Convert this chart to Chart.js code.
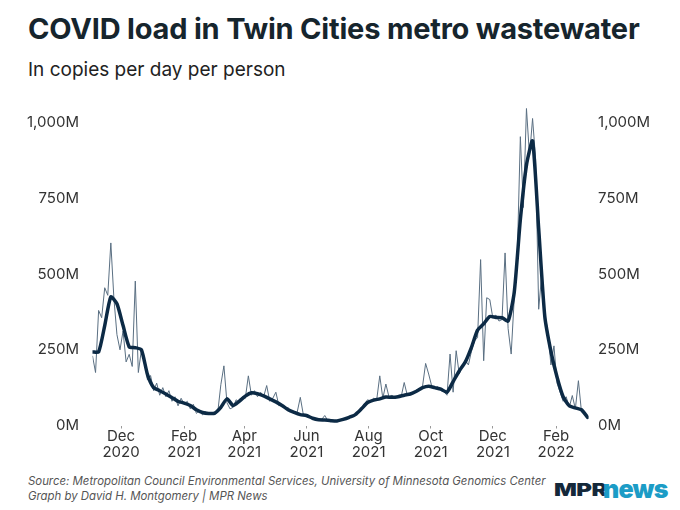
<!DOCTYPE html>
<html>
<head>
<meta charset="utf-8">
<script src="https://cdn.jsdelivr.net/npm/chart.js@4.4.1/dist/chart.umd.min.js"></script>
<style>
  body { margin: 0; width: 680px; height: 510px; background: #fff; font-family: Inter, sans-serif; position: relative; overflow: hidden; }
  #title { position: absolute; left: 28px; top: 11px; font-size: 29px; font-weight: 700; color: #16252d; letter-spacing: -0.2px; white-space: nowrap; }
  #subtitle { position: absolute; left: 28px; top: 58px; font-size: 19px; color: #222; white-space: nowrap; }
  #wrap { position: absolute; left: 0; top: 85.5px; width: 680px; height: 379.5px; }
  #source { position: absolute; left: 28px; top: 474px; font-size: 11.4px; font-style: italic; color: #555; line-height: 15px; white-space: nowrap; }
  .logo { position: absolute; top: 477px; font-weight: 900; white-space: nowrap; line-height: 26px; }
  #mpr { left: 554px; font-size: 18px; color: #14283a; transform: scaleX(1.33); transform-origin: left; letter-spacing: -0.4px; }
  #news { left: 603px; top: 476px; font-size: 25px; color: #1c9cc6; letter-spacing: -0.8px; }
</style>
</head>
<body>
<div id="title">COVID load in Twin Cities metro wastewater</div>
<div id="subtitle">In copies per day per person</div>
<div id="wrap"><canvas id="chart"></canvas></div>
<div id="source">Source: Metropolitan Council Environmental Services, University of Minnesota Genomics Center<br>Graph by David H. Montgomery | MPR News</div>
<div class="logo" id="mpr">MPR</div>
<div class="logo" id="news">news</div>
<script>
// first sample date, samples are spaced by a fixed number of days
const startDate = '2020-11-03';
const endDay = 487;

// daily load (millions of copies per day per person), one value every 3 days
const dailyStep = 3;
const dailyLoad = [
  230, 175, 380, 356, 455, 430, 603, 420, 300, 250,
  312, 210, 235, 195, 477, 175, 250, 210, 150, 165,
  115, 140, 100, 125, 95, 115, 80, 95, 65, 90,
  70, 80, 55, 70, 40, 50, 35, 45, 38, 42,
  36, 45, 135, 197, 75, 55, 60, 85, 75, 95,
  90, 164, 100, 115, 95, 110, 95, 132, 80, 90,
  110, 65, 70, 55, 60, 45, 40, 45, 93, 35,
  30, 28, 22, 20, 18, 20, 33, 16, 15, 14,
  15, 17, 20, 24, 28, 32, 38, 45, 60, 70,
  85, 80, 90, 85, 164, 90, 137, 95, 100, 90,
  98, 95, 142, 100, 108, 105, 118, 115, 130, 205,
  170, 130, 122, 128, 115, 112, 100, 236, 110, 247,
  170, 195, 215, 200, 245, 280, 290, 548, 214, 422,
  416, 355, 365, 345, 350, 570, 320, 236, 420, 560,
  954, 720, 1047, 890, 1014, 880, 384, 500, 370, 310,
  200, 263, 140, 110, 80, 95, 60, 99, 55, 148,
  45, 40, 28
];

// rolling average, one value every 6 days
const avgStep = 6;
const avgLoad = [
  243, 243, 330, 425, 402, 330, 260, 257, 250, 168,
  125, 115, 104, 92, 80, 74, 66, 52, 43, 40,
  41, 60, 88, 66, 80, 97, 108, 105, 98, 88,
  78, 66, 52, 43, 36, 33, 24, 19, 18, 16,
  15, 20, 27, 36, 55, 76, 84, 88, 94, 93,
  95, 100, 104, 113, 125, 130, 125, 120, 110, 145,
  180, 210, 258, 315, 336, 360, 357, 356, 345, 440,
  680, 860, 940, 650, 360, 245, 160, 95, 65, 58,
  52, 27
];

const tickDates = ['2020-12-01', '2021-02-01', '2021-04-01', '2021-06-01', '2021-08-01', '2021-10-01', '2021-12-01', '2022-02-01'];
const tickLabels = [['Dec', '2020'], ['Feb', '2021'], ['Apr', '2021'], ['Jun', '2021'], ['Aug', '2021'], ['Oct', '2021'], ['Dec', '2021'], ['Feb', '2022']];
const yTicks = [0, 250, 500, 750, 1000];

const dayOf = d => (Date.parse(d) - Date.parse(startDate)) / 864e5;
const tickDays = tickDates.map(dayOf);

const tickFont = { family: 'Inter', size: 15, lineHeight: 1.08 };
const tickColor = '#333';

const yAxis = (position, padding, width) => ({
  position: position,
  min: 0,
  max: 1050,
  grid: { display: false, drawTicks: false },
  border: { display: false },
  afterBuildTicks: axis => { axis.ticks = yTicks.map(v => ({ value: v })); },
  afterFit: axis => { axis.width = width; },
  ticks: {
    padding: padding,
    color: tickColor,
    font: tickFont,
    callback: v => v.toLocaleString('en-US') + 'M'
  }
});

new Chart(document.getElementById('chart'), {
  type: 'line',
  data: {
    datasets: [
      {
        label: 'Average',
        data: avgLoad.map((v, i) => ({ x: i * avgStep, y: v })),
        borderColor: '#0c2a45',
        borderWidth: 3.5,
        borderJoinStyle: 'round',
        borderCapStyle: 'round',
        pointRadius: 0,
        tension: 0.2,
        order: 1
      },
      {
        label: 'Daily',
        data: dailyLoad.map((v, i) => ({ x: i * dailyStep, y: v })),
        borderColor: '#5a6f82',
        borderWidth: 1,
        pointRadius: 0,
        tension: 0,
        order: 2
      }
    ]
  },
  options: {
    responsive: true,
    maintainAspectRatio: false,
    animation: false,
    layout: { padding: { top: 1, bottom: 0, left: 0, right: 0 } },
    plugins: {
      legend: { display: false },
      tooltip: { enabled: false }
    },
    scales: {
      x: {
        type: 'linear',
        min: 0,
        max: endDay,
        grid: { drawOnChartArea: false, drawTicks: true, tickLength: 3, color: '#999' },
        border: { display: false },
        afterBuildTicks: axis => { axis.ticks = tickDays.map(v => ({ value: v })); },
        afterFit: axis => { axis.height = 40; },
        ticks: {
          padding: 0,
          color: tickColor,
          font: tickFont,
          maxRotation: 0,
          autoSkip: false,
          callback: v => tickLabels[tickDays.indexOf(v)]
        }
      },
      y: yAxis('left', 13.5, 92.5),
      y2: yAxis('right', 9.5, 91.4)
    }
  }
});
</script>
</body>
</html>
